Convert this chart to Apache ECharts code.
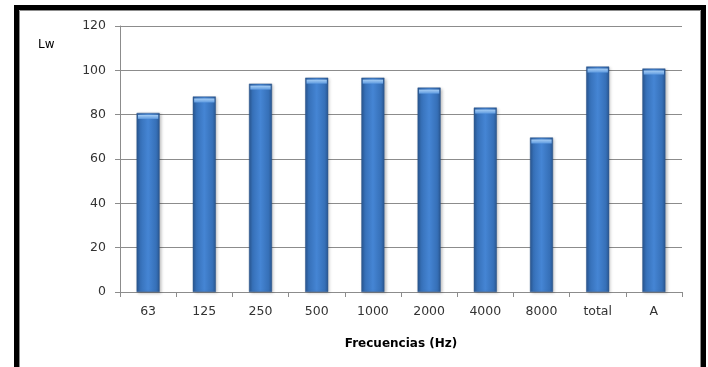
<!DOCTYPE html>
<html><head><meta charset="utf-8">
<script src="https://cdn.jsdelivr.net/npm/echarts@6/dist/echarts.min.js"></script>
<style>html,body{margin:0;padding:0;background:#fff}#c{width:708px;height:367px}</style>
</head><body><div id="c"></div>
<script>
const categories = ['63','125','250','500','1000','2000','4000','8000','total','A'];
const lwValues = [80.8, 88.2, 94.0, 96.7, 96.7, 92.2, 83.2, 69.7, 101.7, 100.8];
const yTicks = {min: 0, max: 120, interval: 20};
const yLabel = 'Lw';
const xLabel = 'Frecuencias (Hz)';

const chart = echarts.init(document.getElementById('c'));
const font = 'DejaVu Sans, sans-serif';
chart.setOption({
  animation: false,
  backgroundColor: '#fff',
  grid: {left: 120, right: 26, top: 26, bottom: 75, containLabel: false},
  graphic: [
    {type: 'rect', shape: {x: 16.5, y: 7.5, width: 687, height: 420}, style: {fill: 'none', stroke: '#000', lineWidth: 5}},
    {type: 'rect', shape: {x: 19.5, y: 10.5, width: 681, height: 420}, style: {fill: 'none', stroke: '#8c8c8c', lineWidth: 1}},
    {type: 'text', left: 38, top: 39, style: {text: yLabel, font: '12px ' + font, fill: '#000'}}
  ],
  xAxis: {
    type: 'category', data: categories,
    name: xLabel, nameLocation: 'middle', nameGap: 46,
    nameTextStyle: {fontFamily: font, fontSize: 12, fontWeight: 'bold', color: '#000'},
    axisLine: {lineStyle: {color: '#8c8c8c'}},
    axisTick: {show: true, length: 5, lineStyle: {color: '#8c8c8c'}},
    axisLabel: {fontFamily: font, fontSize: 12.5, color: '#333', margin: 13}
  },
  yAxis: {
    type: 'value', min: yTicks.min, max: yTicks.max, interval: yTicks.interval,
    axisLine: {show: true, lineStyle: {color: '#8c8c8c'}},
    axisTick: {show: true, length: 5, lineStyle: {color: '#8c8c8c'}},
    axisLabel: {fontFamily: font, fontSize: 12.5, color: '#333', margin: 14},
    splitLine: {lineStyle: {color: '#8c8c8c'}}
  },
  series: [{
    type: 'bar', data: lwValues, barWidth: '41%',
    itemStyle: {
      color: new echarts.graphic.LinearGradient(0, 0, 1, 0, [
        {offset: 0, color: '#2a5791'},
        {offset: 0.15, color: '#3670b8'},
        {offset: 0.5, color: '#4585d4'},
        {offset: 0.85, color: '#3670b8'},
        {offset: 1, color: '#2a5791'}
      ]),
      borderColor: '#2a5387', borderWidth: 0.5,
      shadowColor: 'rgba(0,0,0,0.25)', shadowBlur: 3, shadowOffsetX: 1.5, shadowOffsetY: 1
    }
  }, {
    type: 'pictorialBar', data: lwValues, barWidth: '41%', barGap: '-100%',
    symbol: 'rect', symbolSize: ['88%', 4], symbolPosition: 'end', symbolOffset: [0, 2], z: 3,
    itemStyle: {
      color: new echarts.graphic.LinearGradient(0, 0, 0, 1, [
        {offset: 0, color: '#a6cdf4'},
        {offset: 1, color: '#5f9be0'}
      ])
    }
  }]
});
</script></body></html>
